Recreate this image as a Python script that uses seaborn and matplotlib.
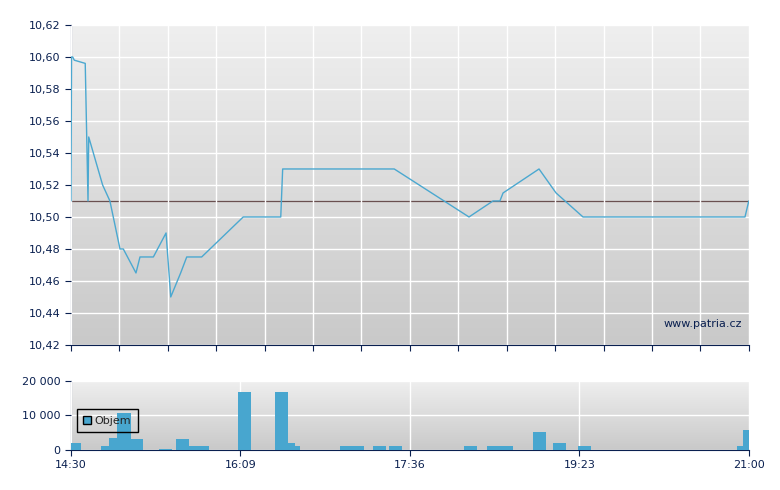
import numpy as np
import matplotlib
matplotlib.use('Agg')
import matplotlib.pyplot as plt
import seaborn as sns
from matplotlib.patches import Patch

# cena (minuty od 14:30)
price_min = [0, 0.3, 1.0, 1.9, 8.2, 9.8, 10.2, 18.2, 22.4, 28.2, 30.1, 37.4, 39.7, 47.4, 54.7,
             57.4, 63.1, 66.6, 75.2, 99.1, 120.7, 121.8, 186.0, 229.0, 242.8, 246.8, 248.6,
             269.3, 279.1, 294.6, 387.8, 390]
price = [10.51, 10.60, 10.60, 10.598, 10.596, 10.51, 10.55, 10.52, 10.51, 10.48, 10.48, 10.465,
         10.475, 10.475, 10.49, 10.45, 10.465, 10.475, 10.475, 10.50, 10.50, 10.53, 10.53, 10.50,
         10.51, 10.51, 10.515, 10.53, 10.515, 10.50, 10.50, 10.51]
ref_price = 10.51

# objem
vol_min = [2.0, 21.3, 25.9, 30.5, 37.7, 54.4, 63.9, 69.3, 75.4, 100.1, 121.1, 125.4, 128.0,
           158.8, 165.1, 177.5, 186.7, 229.9, 243.4, 250.3, 269.6, 281.1, 295.5, 387.2, 390.4]
vol = [2000, 1100, 3300, 10700, 3200, 300, 3200, 1100, 1100, 16700, 16700, 1900, 1100,
       1100, 1100, 1100, 1100, 1100, 1100, 1100, 5200, 2000, 1100, 1100, 5800]

xtick_labels = ['14:30', '16:09', '17:36', '19:23', '21:00']

sns.set_style('white')
navy = '#0a2050'
line_c = '#4ba8d0'

fig = plt.figure(figsize=(7.8, 4.9), dpi=100)
ax = fig.add_axes([0.091, 0.296, 0.869, 0.653])
ax2 = fig.add_axes([0.091, 0.082, 0.869, 0.141])

grad = np.linspace(0, 1, 256).reshape(-1, 1)
for a in (ax, ax2):
    a.imshow(grad, extent=[0, 1, 0, 1], transform=a.transAxes, aspect='auto',
             cmap=matplotlib.colors.LinearSegmentedColormap.from_list('g', ['#efefef', '#c9c9c9']),
             zorder=0)
    a.set_xlim(0, 390)
    for s in ('top', 'right'):
        a.spines[s].set_visible(False)
    for s in ('left', 'bottom'):
        a.spines[s].set_color(navy)
    a.tick_params(colors=navy, labelsize=8, length=4, direction='out', left=True, bottom=True)
    a.grid(True, color='white', linewidth=1, zorder=1)
    a.set_axisbelow(False)

# horní graf
ax.set_ylim(10.42, 10.62)
yt = np.arange(10.42, 10.621, 0.02)
ax.set_yticks(yt)
ax.set_yticklabels([f'{v:.2f}'.replace('.', ',') for v in yt])
ax.set_xticks(np.linspace(0, 390, 15))
ax.set_xticklabels([])
ax.axhline(ref_price, color='#6a5050', linewidth=0.9, zorder=2)
sns.lineplot(x=price_min, y=price, ax=ax, color=line_c, linewidth=1, zorder=3)
ax.text(0.99, 0.05, 'www.patria.cz', transform=ax.transAxes, ha='right', va='bottom',
        color=navy, fontsize=8)

# dolní graf
ax2.set_ylim(0, 20000)
ax2.set_yticks([0, 10000, 20000])
ax2.set_yticklabels(['0', '10 000', '20 000'])
ax2.set_xticks(np.linspace(0, 390, 5))
ax2.set_xticklabels(xtick_labels)
ax2.bar(vol_min, vol, width=7.5, color='#48a6cf', edgecolor='none', linewidth=0, zorder=3)
leg = ax2.legend(handles=[Patch(facecolor='#48a6cf', edgecolor='black', label='Objem')],
                 loc='center left', bbox_to_anchor=(0.0, 0.42), fontsize=8, fancybox=False,
                 handlelength=0.7, handletextpad=0.3, borderpad=0.6, framealpha=1)
leg.get_frame().set_edgecolor('black')
leg.get_frame().set_facecolor('none')

fig.savefig('out.png', dpi=100)
